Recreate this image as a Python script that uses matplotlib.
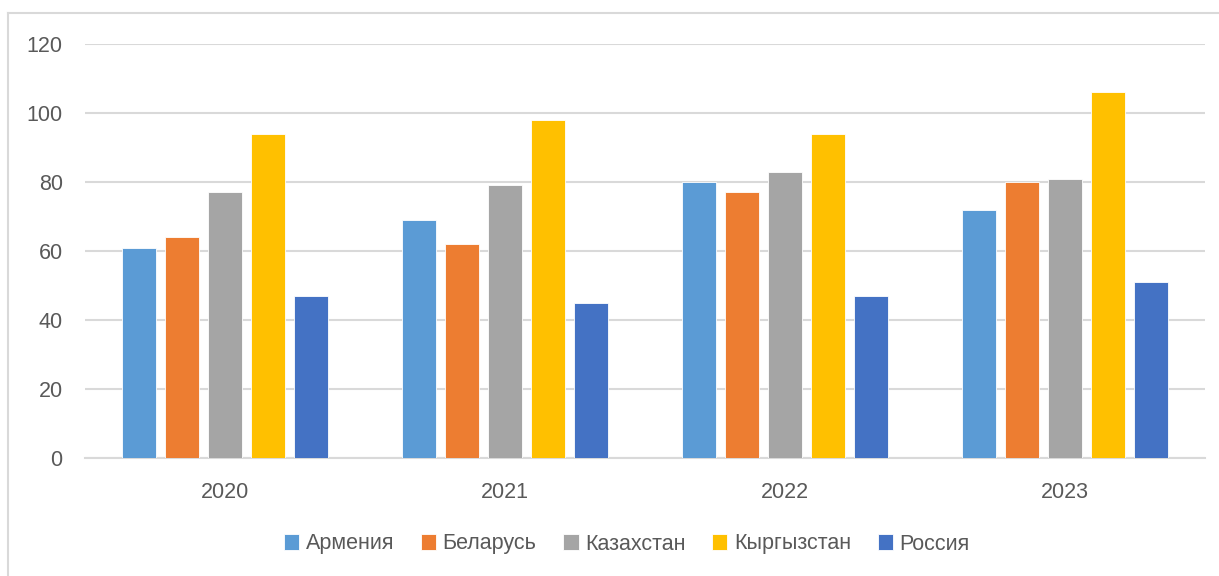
import numpy as np
import matplotlib.pyplot as plt
from matplotlib.lines import Line2D

plt.rcParams['font.family'] = ['Liberation Sans', 'DejaVu Sans']

years = ['2020', '2021', '2022', '2023']
countries = ['Армения', 'Беларусь', 'Казахстан', 'Кыргызстан', 'Россия']
armenia = [61, 69, 80, 72]
belarus = [64, 62, 77, 80]
kazakhstan = [77, 79, 83, 81]
kyrgyzstan = [94, 98, 94, 106]
russia = [47, 45, 47, 51]
colors = ['#5B9BD5', '#ED7D31', '#A5A5A5', '#FFC000', '#4472C4']

series = [armenia, belarus, kazakhstan, kyrgyzstan, russia]

fig = plt.figure(figsize=(12.19, 5.76), dpi=100)
ax = fig.add_axes([0.0697, 0.2049, 0.9188, 0.7187])

x = np.arange(len(years))
step = 0.154
w = 0.121
for i, (vals, c, name) in enumerate(zip(series, colors, countries)):
    ax.bar(x + (i - 2) * step, vals, width=w, color=c, edgecolor='white',
           linewidth=0.6, label=name, zorder=3)

ax.set_xlim(-0.5, 3.5)
ax.set_ylim(0, 120)
ax.set_yticks(np.arange(0, 121, 20))
ax.set_xticks(x)
ax.set_xticklabels(years)
ax.yaxis.grid(True, color='#d9d9d9', linewidth=1.5, zorder=0)
ax.tick_params(axis='both', length=0, labelsize=15.5, labelcolor='#595959')
ax.tick_params(axis='y', pad=16)
ax.tick_params(axis='x', pad=17)
for s in ['top', 'right', 'left']:
    ax.spines[s].set_visible(False)
ax.spines['bottom'].set_color('#d9d9d9')
ax.spines['bottom'].set_linewidth(1.5)

leg = fig.legend(loc='center', bbox_to_anchor=(627 / 1219, 1 - 544 / 576), ncol=5,
                 frameon=False, fontsize=15.5, handlelength=0.7,
                 handleheight=0.7, handletextpad=0.3, columnspacing=1.25)
for t in leg.get_texts():
    t.set_color('#595959')

# outer chart frame
fig.add_artist(Line2D([8 / 1219, 1], [1 - 13 / 576, 1 - 13 / 576],
                      color='#d9d9d9', linewidth=1.5, transform=fig.transFigure))
fig.add_artist(Line2D([8 / 1219, 8 / 1219], [0, 1 - 13 / 576],
                      color='#d9d9d9', linewidth=1.5, transform=fig.transFigure))

plt.savefig('out.png', dpi=100)
